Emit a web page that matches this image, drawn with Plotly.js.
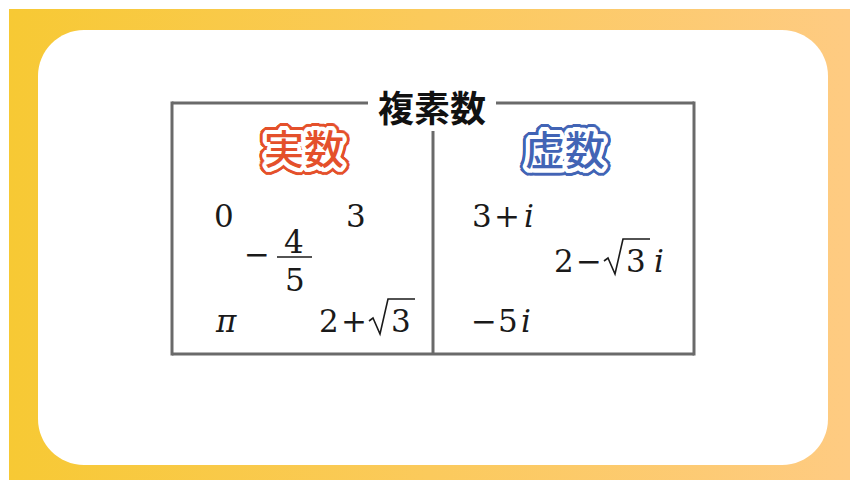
<!DOCTYPE html>
<html>
<head>
<meta charset="utf-8">
<script src="https://cdn.plot.ly/plotly-3.0.1.min.js"></script>
<style>
  html, body { margin: 0; padding: 0; background: #ffffff; }
  #wrap { position: relative; width: 850px; height: 480px; overflow: hidden; background: #ffffff; }
  #bg { position: absolute; left: 9px; top: 9px; width: 841px; height: 471px;
        background: linear-gradient(90deg, #F7C934 0%, #FBCA5C 50%, #FECB82 100%); }
  #chart { position: absolute; left: 0; top: 0; width: 850px; height: 480px; }
</style>
</head>
<body>
<div id="wrap"><div id="bg"></div><div id="chart"></div></div>
<script>
// ---- content ----
const groupTitle = '複素数';
const categories = ['実数', '虚数'];
const categoryColors = ['#E4502B', '#4264B5'];
const realNumbers = ['0', '3', '−4/5', 'π', '2+√3'];
const imaginaryNumbers = ['3+i', '2−√3i', '−5i'];

// ---- layout of each term: left x of first glyph, row y (digit centre) ----
const termPlacement = {
  '0':     { x: 215, y: 216 },
  '3':     { x: 347, y: 216 },
  '−4/5':  { x: 247, y: 254 },
  'π':     { x: 215, y: 321 },
  '2+√3':  { x: 320, y: 321 },
  '3+i':   { x: 473, y: 216 },
  '2−√3i': { x: 555, y: 261 },
  '−5i':   { x: 474, y: 321 }
};
const categoryPlacement = [{ x: 304, y: 147 }, { x: 565, y: 148 }];

const MATH_FONT = { family: 'DejaVu Serif', size: 31, color: '#1a1a1a' };
const LINE_COLOR = '#6a6a6a';

const annotations = [];
const shapes = [];

function glyph(cx, y, s, italic) {
  annotations.push({
    x: cx, y: y, xref: 'x', yref: 'y', text: s,
    showarrow: false, xanchor: 'center', yanchor: 'middle',
    font: Object.assign({}, MATH_FONT, { style: italic ? 'italic' : 'normal' })
  });
}

function line(x0, y0, x1, y1, w, c) {
  shapes.push({ type: 'line', xref: 'x', yref: 'y', x0, y0, x1, y1,
    line: { color: c || LINE_COLOR, width: w } });
}

function radical(x, y, width) {
  const top = y - 22, bot = y + 13;
  const p = `M ${x},${y} L ${x + 4},${y - 3} L ${x + 11},${bot} L ${x + 19},${top} L ${x + 19 + width},${top}`;
  shapes.push({ type: 'path', xref: 'x', yref: 'y', path: p,
    line: { color: '#1a1a1a', width: 1.6 } });
}

// a tiny typesetter: walks the term, glyph by glyph
function typeset(term) {
  const pl = termPlacement[term];
  let x = pl.x;
  const y = pl.y;
  const chars = Array.from(term);
  for (let k = 0; k < chars.length; k++) {
    const c = chars[k];
    if (/[0-9]/.test(c) && chars[k + 1] === '/') {
      const num = c, den = chars[k + 2];
      const w = 35;
      glyph(x + w / 2 - 1, y - 12, num, false);
      glyph(x + w / 2, y + 26, den, false);
      line(x, y + 3, x + w, y + 3, 1.5, '#1a1a1a');
      x += w + 4;
      k += 2;
    } else if (/[0-9]/.test(c)) {
      glyph(x + 9, y, c, false);
      x += 20;
    } else if (c === '+' || c === '−') {
      const binary = k > 0;
      if (binary) { glyph(x + 14, y, c, false); x += 29; }
      else if (chars[k + 2] === '/') { glyph(x + 10, y, c, false); x += 30; }
      else { glyph(x + 10, y, c, false); x += 25; }
    } else if (c === '√') {
      const d = chars[k + 1];
      radical(x, y, 27);
      glyph(x + 32, y, d, false);
      x += 48;
      k += 1;
    } else if (c === 'i') {
      glyph(x + 7, y, c, true);
      x += 13;
    } else if (c === 'π') {
      glyph(x + 11, y, c, true);
      x += 22;
    }
  }
}

realNumbers.forEach(typeset);
imaginaryNumbers.forEach(typeset);

// sticker-like outline via stacked text shadows
function ring(color, r, n) {
  const out = [];
  for (let k = 0; k < n; k++) {
    const a = 2 * Math.PI * k / n;
    out.push(`${(r * Math.cos(a)).toFixed(2)}px ${(r * Math.sin(a)).toFixed(2)}px 0 ${color}`);
  }
  return out;
}
function sticker(color) {
  return [].concat(
    ring('#ffffff', 1.5, 12), ring('#ffffff', 3, 18), ring('#ffffff', 4, 22),
    ring(color, 5, 26), ring(color, 6, 28), ring(color, 7, 30)
  ).join(', ');
}

categories.forEach((cat, i) => {
  annotations.push({
    x: categoryPlacement[i].x, y: categoryPlacement[i].y, xref: 'x', yref: 'y',
    text: cat, showarrow: false, xanchor: 'center', yanchor: 'middle',
    font: { family: 'Noto Sans CJK JP', size: 40, weight: 500, color: categoryColors[i],
            shadow: sticker(categoryColors[i]) }
  });
});

annotations.push({
  x: 432, y: 106, xref: 'x', yref: 'y', text: groupTitle, showarrow: false,
  xanchor: 'center', yanchor: 'middle',
  font: { family: 'Noto Sans CJK JP', size: 36, weight: 700, color: '#111111' }
});

// white rounded card
const L = 38, T = 30, R = 828, B = 465, r = 46;
shapes.unshift({
  type: 'path', xref: 'x', yref: 'y', layer: 'below',
  path: `M ${L + r},${T} L ${R - r},${T} C ${R - r * 0.45},${T} ${R},${T + r * 0.45} ${R},${T + r} ` +
        `L ${R},${B - r} C ${R},${B - r * 0.45} ${R - r * 0.45},${B} ${R - r},${B} ` +
        `L ${L + r},${B} C ${L + r * 0.45},${B} ${L},${B - r * 0.45} ${L},${B - r} ` +
        `L ${L},${T + r} C ${L},${T + r * 0.45} ${L + r * 0.45},${T} ${L + r},${T} Z`,
  fillcolor: '#ffffff', line: { width: 0 }
});

// frame
const bx0 = 172, bx1 = 694, by0 = 103, by1 = 354, mid = 433;
line(bx0, by0, 368, by0, 3);
line(496, by0, bx1, by0, 3);
line(bx0, by0 - 1.5, bx0, by1 + 1.5, 3);
line(bx1, by0 - 1.5, bx1, by1 + 1.5, 3);
line(bx0, by1, bx1, by1, 3);
line(mid, 131, mid, by1, 3);

const layout = {
  width: 850, height: 480, autosize: false,
  margin: { l: 0, r: 0, t: 0, b: 0, pad: 0 },
  paper_bgcolor: 'rgba(0,0,0,0)', plot_bgcolor: 'rgba(0,0,0,0)',
  xaxis: { range: [0, 850], visible: false, fixedrange: true },
  yaxis: { range: [480, 0], visible: false, fixedrange: true },
  showlegend: false,
  shapes: shapes,
  annotations: annotations
};

Plotly.newPlot('chart', [], layout, { staticPlot: true, displayModeBar: false });
</script>
</body>
</html>
